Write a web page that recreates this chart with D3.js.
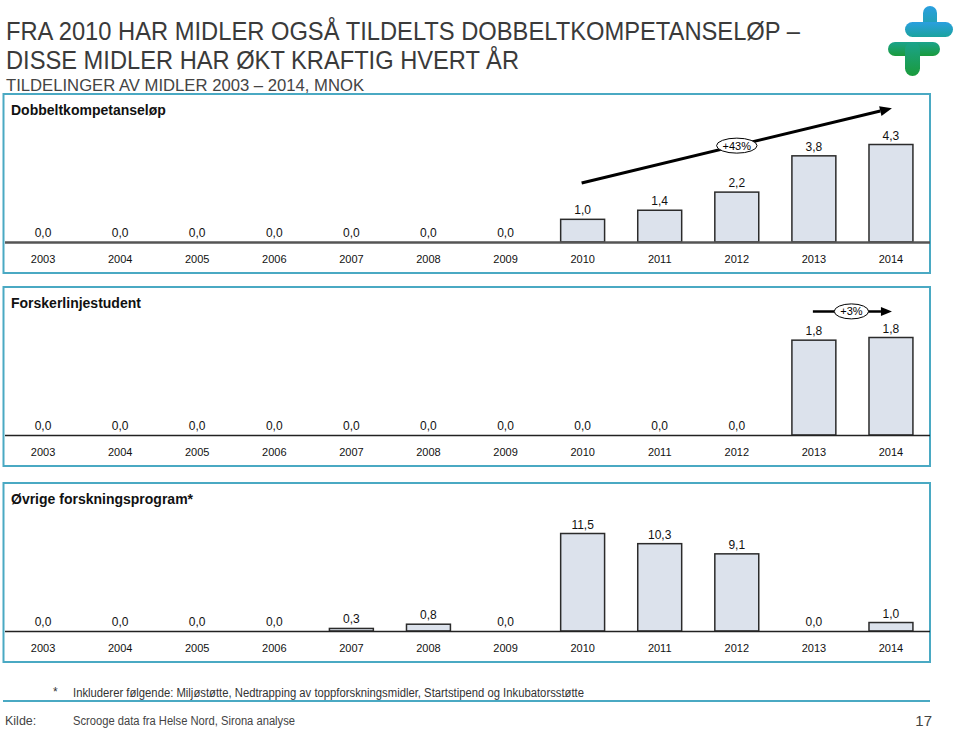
<!DOCTYPE html>
<html><head><meta charset="utf-8">
<script src="https://cdn.jsdelivr.net/npm/d3@7"></script>
<style>body{margin:0;background:#fff}svg{display:block}</style>
</head><body>
<svg id="c" width="960" height="729"></svg>
<script>
// ---------- data ----------
const years = ["2003","2004","2005","2006","2007","2008","2009","2010","2011","2012","2013","2014"];
const dobbeltkompetanse = [0,0,0,0,0,0,0,1.0,1.4,2.2,3.8,4.3];
const forskerlinje      = [null,null,null,null,null,null,null,null,null,null,1.78,1.83];
const forskerlinjeZero  = [0,0,0,0,0,0,0,0,0,0,null,null];
const ovrigeProgram     = [0,0,0,0,0.3,0.8,0,11.5,10.3,9.1,0,1.0];
const panelTitles = ["Dobbeltkompetanseløp","Forskerlinjestudent","Øvrige forskningsprogram*"];
const growthLabels = ["+43%","+3%",null];
const growthFrom = ["2010","2013",null];
const growthTo   = ["2014","2014",null];
const growthStartLevel = [2.6, 2.32, null];
const growthEndLevel   = [5.9, 2.32, null];
const titleLines = ["FRA 2010 HAR MIDLER OGSÅ TILDELTS DOBBELTKOMPETANSELØP –","DISSE MIDLER HAR ØKT KRAFTIG HVERT ÅR"];
const subtitle = "TILDELINGER AV MIDLER 2003 – 2014, MNOK";
const footnoteMark = "*";
const footnote = "Inkluderer følgende: Miljøstøtte, Nedtrapping av toppforskningsmidler, Startstipend og Inkubatorsstøtte";
const sourceLabel = "Kilde:";
const sourceText = "Scrooge data fra Helse Nord, Sirona analyse";
const pageNumber = "17";

// ---------- layout ----------
const svg = d3.select("#c");
const sans = "'Liberation Sans', Arial, Helvetica, sans-serif";
const narrow = "'Liberation Sans Narrow', 'Arial Narrow', 'Liberation Sans', Arial, sans-serif";
const teal = "#4aa9c3";
const fmt = v => d3.format(".1f")(v).replace(".", ",");

// logo
const defs = svg.append("defs");
const g1 = defs.append("linearGradient").attr("id","lg1").attr("x1",0).attr("y1",0).attr("x2",0).attr("y2",1);
g1.append("stop").attr("offset","0%").attr("stop-color","#2a9fe0");
g1.append("stop").attr("offset","100%").attr("stop-color","#1ba39e");
const g2 = defs.append("linearGradient").attr("id","lg2").attr("x1",0).attr("y1",0).attr("x2",0).attr("y2",1);
g2.append("stop").attr("offset","0%").attr("stop-color","#1ba38c");
g2.append("stop").attr("offset","100%").attr("stop-color","#1a9b3c");
const logo = svg.append("g");
const topCross = logo.append("g").attr("fill","url(#lg1)");
topCross.append("rect").attr("x",923).attr("y",6).attr("width",14).attr("height",28).attr("rx",7);
topCross.append("rect").attr("x",905).attr("y",22).attr("width",48).attr("height",15).attr("rx",7.5);
const botCross = logo.append("g").attr("fill","url(#lg2)");
botCross.append("rect").attr("x",888).attr("y",42).attr("width",52).attr("height",14).attr("rx",7);
botCross.append("rect").attr("x",905).attr("y",42).attr("width",15).attr("height",34).attr("rx",7.5);

// titles
svg.append("text").attr("x",6).attr("y",40).attr("font-family",narrow).attr("font-size",26)
  .attr("fill","#3a3a3a").attr("textLength",794).attr("lengthAdjust","spacingAndGlyphs").text(titleLines[0]);
svg.append("text").attr("x",6).attr("y",69).attr("font-family",narrow).attr("font-size",26)
  .attr("fill","#3a3a3a").attr("textLength",513).attr("lengthAdjust","spacingAndGlyphs").text(titleLines[1]);
svg.append("text").attr("x",6).attr("y",91).attr("font-family",narrow).attr("font-size",16)
  .attr("fill","#444").attr("textLength",358).attr("lengthAdjust","spacingAndGlyphs").text(subtitle);

// panels
const x = d3.scaleBand().domain(years).range([4.5, 929.5]).paddingInner(0.43).paddingOuter(0.215);
const panelTops = [94, 287, 483];
const panelSeries = [[dobbeltkompetanse], [forskerlinje, forskerlinjeZero], [ovrigeProgram]];
const axisStyle = [{c:"#555", w:2.5}, {c:"#222", w:1.5}, {c:"#222", w:1.5}];

panelTops.forEach((top, i) => {
  const g = svg.append("g");
  const baseline = top + 148;
  g.append("rect").attr("x",3.5).attr("y",top).attr("width",926.5).attr("height",179)
    .attr("fill","none").attr("stroke",teal).attr("stroke-width",2);
  g.append("text").attr("x",11).attr("y",top+21).attr("font-family",sans).attr("font-weight","bold")
    .attr("font-size",14).attr("fill","#111").text(panelTitles[i]);

  const main = panelSeries[i][0];
  const y = d3.scaleLinear().domain([0, d3.max(main)]).range([baseline, baseline - 97.5]);
  const data = years.map((yr, k) => ({yr, v: main[k]}));

  g.selectAll("rect.bar").data(data.filter(d => d.v != null && d.v > 0)).join("rect")
    .attr("class","bar").attr("x", d => x(d.yr)).attr("width", x.bandwidth())
    .attr("y", d => y(d.v)).attr("height", d => baseline - y(d.v))
    .attr("fill","#dce2ec").attr("stroke","#2b2b2b").attr("stroke-width",1.5);

  const labelData = years.map((yr, k) => {
    let v = main[k];
    if (v == null && panelSeries[i][1]) v = panelSeries[i][1][k];
    return {yr, v};
  }).filter(d => d.v != null);
  g.selectAll("text.val").data(labelData).join("text").attr("class","val")
    .attr("x", d => x(d.yr) + x.bandwidth()/2).attr("y", d => y(d.v) - 5)
    .attr("text-anchor","middle").attr("font-family",sans).attr("font-size",12).attr("fill","#111")
    .text(d => fmt(d.v));

  const ax = g.append("g").attr("transform",`translate(0,${baseline})`)
    .call(d3.axisBottom(x).tickSize(0).tickSizeOuter(0).tickPadding(13));
  ax.select(".domain").attr("stroke", axisStyle[i].c).attr("stroke-width", axisStyle[i].w);
  ax.selectAll("text").attr("font-family",sans).attr("font-size",11).attr("fill","#111");

  if (growthLabels[i]) {
    const x1 = x(growthFrom[i]) + x.bandwidth()/2 - 1;
    const x2 = x(growthTo[i]) + x.bandwidth()/2 + 1;
    const y1 = y(growthStartLevel[i]), y2 = y(growthEndLevel[i]);
    const ang = Math.atan2(y2 - y1, x2 - x1);
    const hl = i === 0 ? 12 : 11, hw = i === 0 ? 5 : 4.5;
    const bx = x2 - hl*Math.cos(ang), by = y2 - hl*Math.sin(ang);
    g.append("line").attr("x1",x1).attr("y1",y1).attr("x2",bx).attr("y2",by)
      .attr("stroke","#000").attr("stroke-width", i === 0 ? 3 : 2.5);
    const px = -Math.sin(ang), py = Math.cos(ang);
    g.append("path").attr("d",`M${x2},${y2}L${bx+px*hw},${by+py*hw}L${bx-px*hw},${by-py*hw}Z`).attr("fill","#000");
    const mx = (x1+x2)/2 + (i===0 ? 0 : -1), my = (y1+y2)/2;
    const el = g.append("ellipse").attr("cx",mx).attr("cy",my).attr("fill","#fff").attr("stroke","#000").attr("stroke-width",1);
    const t = g.append("text").attr("x",mx).attr("y",my+4).attr("text-anchor","middle")
      .attr("font-family",sans).attr("font-size",11).attr("fill","#000").text(growthLabels[i]);
    const tw = t.node().getComputedTextLength();
    el.attr("rx", tw/2 + 6).attr("ry", 7.5);
  }
});

// footnote
svg.append("text").attr("x",53).attr("y",696).attr("font-family",narrow).attr("font-size",12).attr("fill","#333").text(footnoteMark);
svg.append("text").attr("x",73).attr("y",697).attr("font-family",narrow).attr("font-size",12.5).attr("fill","#333")
  .attr("textLength",511).attr("lengthAdjust","spacingAndGlyphs").text(footnote);
svg.append("line").attr("x1",3).attr("x2",930).attr("y1",701).attr("y2",701).attr("stroke",teal).attr("stroke-width",2);
svg.append("text").attr("x",5).attr("y",725).attr("font-family",narrow).attr("font-size",12.5).attr("fill","#444").text(sourceLabel);
svg.append("text").attr("x",73).attr("y",725).attr("font-family",narrow).attr("font-size",12.5).attr("fill","#444")
  .attr("textLength",222).attr("lengthAdjust","spacingAndGlyphs").text(sourceText);
svg.append("text").attr("x",932).attr("y",726).attr("text-anchor","end").attr("font-family",sans).attr("font-size",15).attr("fill","#444").text(pageNumber);
</script>
</body></html>
